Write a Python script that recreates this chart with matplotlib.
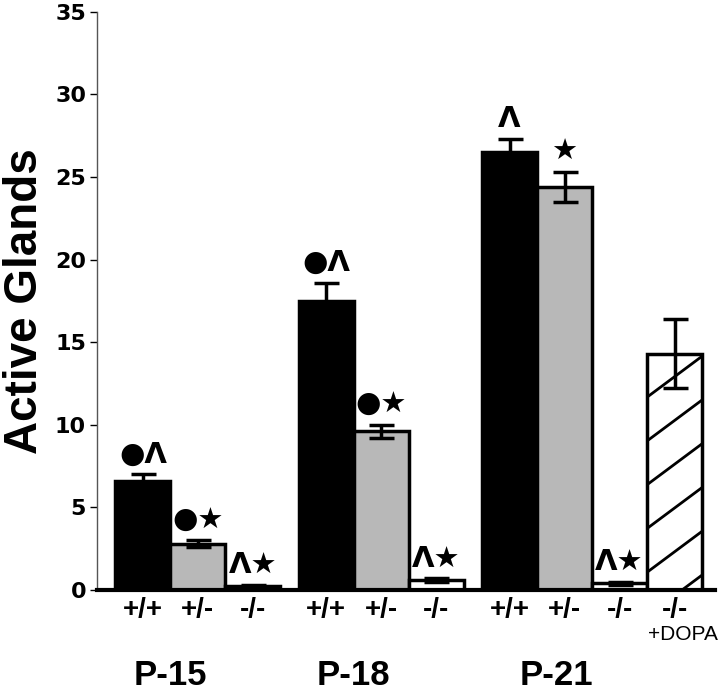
import numpy as np
import matplotlib
matplotlib.use("Agg")
import matplotlib.pyplot as plt
import matplotlib.transforms as mtransforms

# ======================
# DATA
# ======================
groups = ["P-15", "P-18", "P-21"]

p15_labels = ["+/+", "+/-", "-/-"]
p15_means = [6.6, 2.8, 0.25]
p15_err = [0.4, 0.2, 0.05]
p15_marks = ["●Λ", "●★", "Λ★"]

p18_labels = ["+/+", "+/-", "-/-"]
p18_means = [17.5, 9.6, 0.6]
p18_err = [1.1, 0.4, 0.1]
p18_marks = ["●Λ", "●★", "Λ★"]

p21_labels = ["+/+", "+/-", "-/-", "-/-"]
p21_means = [26.5, 24.4, 0.4, 14.3]
p21_err = [0.8, 0.9, 0.1, 2.1]
p21_marks = ["Λ", "★", "Λ★", ""]

yticks = [0, 5, 10, 15, 20, 25, 30, 35]

# ======================
# LAYOUT
# ======================
plt.rcParams['font.family'] = ['Liberation Sans', 'DejaVu Sans']

fig = plt.figure(figsize=(7.2, 6.94), dpi=100)
ax = fig.add_axes([0.135, 0.15, 0.858, 0.833])

styles = ["#000000", "#b8b8b8", "#ffffff", "#ffffff"]

all_means = [p15_means, p18_means, p21_means]
all_err = [p15_err, p18_err, p21_err]
all_labels = [p15_labels, p18_labels, p21_labels]
all_marks = [p15_marks, p18_marks, p21_marks]

x = 0.0
tick_pos = []
tick_lab = []
centers = []
hatch_bar = None
for g in range(len(groups)):
    xs = x + np.arange(len(all_means[g]))
    bars = ax.bar(xs, all_means[g], width=1.0, color=styles[:len(xs)],
                  edgecolor="black", linewidth=2.5, zorder=2)
    ax.errorbar(xs, all_means[g], yerr=all_err[g], fmt="none", ecolor="black",
                elinewidth=2.5, capsize=9, capthick=2.5, zorder=3)
    for xi, m, e, mk in zip(xs, all_means[g], all_err[g], all_marks[g]):
        if mk:
            ax.text(xi, m + e + 0.35, mk, ha="center", va="bottom",
                    fontsize=21, fontweight="bold", family=["DejaVu Sans"],
                    zorder=4)
    if len(xs) == 4:
        hatch_bar = bars[3]
        centers.append(xs[1] - 0.15)
    else:
        centers.append(xs[0] + 0.5)
    tick_pos += list(xs)
    tick_lab += all_labels[g]
    x = xs[-1] + 1 + 1 / 3

# hand-drawn sparse hatch inside the +DOPA bar
x0 = hatch_bar.get_x()
w = hatch_bar.get_width()
h = hatch_bar.get_height()
for yl in np.arange(1.07 - 2.65, h + 2.65, 2.65):
    ln, = ax.plot([x0, x0 + w], [yl, yl + 2.48], color="black", lw=2.0,
                  zorder=2.5, solid_capstyle="butt")
    ln.set_clip_path(hatch_bar)

ax.set_xlim(-0.83, 10.4)
ax.set_ylim(0, 35)
ax.set_yticks(yticks)
ax.set_yticklabels([str(t) for t in yticks], fontsize=16, fontweight="bold",
                   family=["DejaVu Sans"])
ax.tick_params(axis="y", length=5, width=1, pad=3)

ax.set_xticks(tick_pos)
ax.set_xticklabels(tick_lab, fontsize=20, fontweight="bold")
ax.tick_params(axis="x", length=0, pad=5)

trans = mtransforms.blended_transform_factory(ax.transData, ax.transAxes)
ax.text(tick_pos[-1] + 0.15, -0.06, "+DOPA", transform=trans, ha="center",
        va="top", fontsize=15)
for c, g in zip(centers, groups):
    ax.text(c, -0.148, g, transform=trans, ha="center", va="center",
            fontsize=25, fontweight="bold")

ax.set_ylabel("Active Glands", fontsize=33, fontweight="bold", labelpad=6)

ax.spines["top"].set_visible(False)
ax.spines["right"].set_visible(False)
ax.spines["left"].set_linewidth(1)
ax.spines["left"].set_color("#555555")
ax.spines["bottom"].set_linewidth(3)
ax.spines["bottom"].set_zorder(5)

fig.savefig("out.png", dpi=100)
